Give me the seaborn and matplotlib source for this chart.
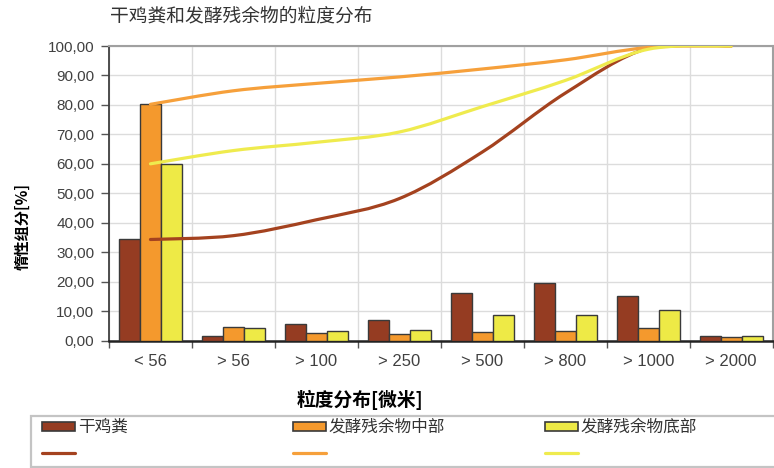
import matplotlib
matplotlib.use("Agg")
import matplotlib.pyplot as plt
import seaborn as sns
import pandas as pd
from matplotlib.path import Path
from matplotlib.patches import PathPatch, Patch, Rectangle
from matplotlib.lines import Line2D
from matplotlib.ticker import FuncFormatter, FixedLocator

# particle size classes [micrometre]
categories = ['< 56', '> 56', '> 100', '> 250', '> 500', '> 800', '> 1000', '> 2000']
series = ['干鸡粪', '发酵残余物中部', '发酵残余物底部']

# share per class [%]
dry_manure = [34.3, 1.4, 5.7, 7.1, 16.0, 19.6, 15.1, 1.6]
digestate_mid = [80.2, 4.5, 2.6, 2.3, 2.8, 3.1, 4.3, 1.1]
digestate_bottom = [60.0, 4.3, 3.1, 3.7, 8.8, 8.5, 10.3, 1.6]

# cumulative curves [%]
cum_dry_manure = [34.3, 35.6, 41.0, 48.2, 64.0, 84.0, 99.3, 100.0]
cum_digestate_mid = [80.2, 84.8, 87.3, 89.5, 92.2, 95.3, 99.5, 100.0]
cum_digestate_bottom = [60.0, 64.5, 67.3, 70.8, 79.4, 88.3, 98.9, 100.0]

bar_colors = ['#953C22', '#F4992D', '#EEEA46']
line_colors = ['#A4421F', '#F6A03B', '#EFEB4E']

CJK = ['Noto Sans CJK SC', 'DejaVu Sans']
LAT = ['Liberation Sans', 'DejaVu Sans']

sns.set_theme(style='white')
plt.rcParams['font.family'] = CJK


def smooth_path(xs, ys):
    """Catmull-Rom style bezier through the given points (like a smoothed office chart line)."""
    pts = list(zip(xs, ys))
    n = len(pts)
    verts = [pts[0]]
    codes = [Path.MOVETO]
    for i in range(n - 1):
        p0 = pts[i - 1] if i > 0 else pts[i]
        p1 = pts[i]
        p2 = pts[i + 1]
        p3 = pts[i + 2] if i + 2 < n else pts[i + 1]
        c1 = (p1[0] + (p2[0] - p0[0]) / 6, p1[1] + (p2[1] - p0[1]) / 6)
        c2 = (p2[0] - (p3[0] - p1[0]) / 6, p2[1] - (p3[1] - p1[1]) / 6)
        verts += [c1, c2, p2]
        codes += [Path.CURVE4] * 3
    return Path(verts, codes)


df = pd.DataFrame({
    'size': categories * 3,
    'value': dry_manure + digestate_mid + digestate_bottom,
    'sample': [s for s in series for _ in categories],
})

fig = plt.figure(figsize=(7.74, 4.68), dpi=100)
ax = fig.add_axes([0.1408, 0.2724, 0.8575, 0.6293])

sns.barplot(data=df, x='size', y='value', hue='sample', order=categories, hue_order=series,
            palette=bar_colors, saturation=1, width=0.76, edgecolor='#3a3a3a', linewidth=1.0,
            legend=False, ax=ax, zorder=3)

for cum, col in zip([cum_dry_manure, cum_digestate_mid, cum_digestate_bottom], line_colors):
    patch = PathPatch(smooth_path(range(len(categories)), cum), facecolor='none',
                      edgecolor=col, linewidth=2.3, capstyle='round', zorder=5)
    ax.add_patch(patch)

ax.set_xlim(-0.5, len(categories) - 0.5)
ax.set_ylim(0, 100)
ax.set_yticks(range(0, 101, 10))
ax.yaxis.set_major_formatter(FuncFormatter(lambda v, p: f"{v:.2f}".replace('.', ',')))
ax.xaxis.set_minor_locator(FixedLocator([i + 0.5 for i in range(-1, len(categories))]))
ax.set_xlabel('')
ax.set_ylabel('')

ax.grid(axis='y', which='major', color='#dcdcdc', linewidth=1.0, zorder=0)
ax.grid(axis='x', which='minor', color='#dcdcdc', linewidth=1.0, zorder=0)
ax.grid(axis='x', which='major', visible=False)
ax.set_axisbelow(True)

ax.tick_params(axis='x', which='major', length=0, pad=10, labelsize=12, labelcolor='#404040')
ax.tick_params(axis='x', which='minor', length=5, width=1, color='#555555', bottom=True)
ax.tick_params(axis='y', length=5.5, width=1, color='#555555', pad=5, labelsize=11,
               labelcolor='#404040', left=True)
for lab in ax.get_xticklabels() + ax.get_yticklabels():
    lab.set_family(LAT)

ax.spines['left'].set_color('#404040')
ax.spines['left'].set_linewidth(1.3)
ax.spines['bottom'].set_color('#222222')
ax.spines['bottom'].set_linewidth(1.8)
ax.spines['top'].set_color('#a0a0a0')
ax.spines['top'].set_linewidth(1.5)
ax.spines['right'].set_color('#a0a0a0')
ax.spines['right'].set_linewidth(1.5)

fig.text(110 / 774, 1 - 15.5 / 468, '干鸡粪和发酵残余物的粒度分布', fontsize=13.5,
         color='#333333', ha='left', va='center')
fig.text(23 / 774, 1 - 227 / 468, '惰性组分[%]', rotation=90, fontsize=11,
         fontweight='bold', color='black', ha='center', va='center')
fig.text(360 / 774, 1 - 399.5 / 468, '粒度分布[微米]', fontsize=13.5,
         fontweight='bold', color='black', ha='center', va='center')

# legend frame along the bottom
fig.add_artist(Rectangle((30.7 / 774, 1 - 466.7 / 468), 800 / 774, 51 / 468,
                         transform=fig.transFigure, facecolor='white',
                         edgecolor='#c4c4c4', linewidth=1.6, zorder=1))

legend_x = [42, 293, 545]
for name, bc, lc, x0 in zip(series, bar_colors, line_colors, legend_x):
    handles = [Patch(facecolor=bc, edgecolor='#3a3a3a', linewidth=1.2),
               Line2D([], [], color=lc, linewidth=2.3)]
    leg = fig.legend(handles, [name, ''], loc='upper left',
                     bbox_to_anchor=(x0 / 774, 1 - 419 / 468), frameon=False,
                     borderpad=0, borderaxespad=0, handlelength=1.95, handleheight=0.45,
                     handletextpad=0.2, labelspacing=0.55, fontsize=12)
    leg.set_zorder(2)
    for t in leg.get_texts():
        t.set_color('#333333')

fig.savefig('out.png', dpi=100)
